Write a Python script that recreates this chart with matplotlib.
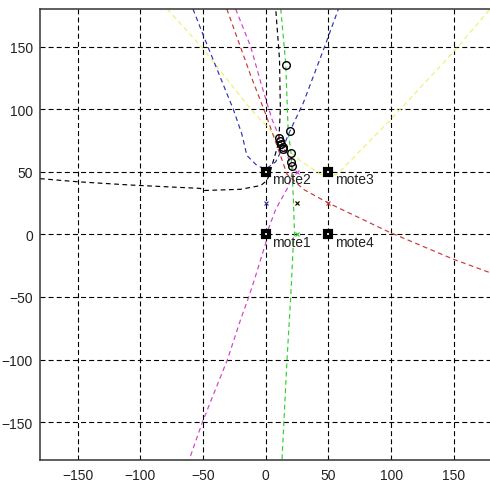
import matplotlib
matplotlib.use("Agg")
import matplotlib.pyplot as plt

plt.rcParams['font.family'] = ['Liberation Sans', 'DejaVu Sans']

# Mote positions and names
mote_x = [0, 0, 50, 50]
mote_y = [0, 50, 50, 0]
mote_names = ["mote1", "mote2", "mote3", "mote4"]

# Hyperbola branches (sampled points)
black_x = [-180, -150, -108, -52, -50, -20, -4, 1, 3, 10.4, 11.7, 11, 8]
black_y = [44.5, 42, 39.4, 36.7, 35, 36, 39, 43, 48, 73.5, 100, 140, 180]

blue_x = [-58, -49, -25.5, -19, -15, -7, 0, 8, 14, 20, 30, 47, 58]
blue_y = [180, 157, 99, 80, 63, 55, 52, 58, 70, 84, 105, 150, 180]

red_x = [-31, -12, 0, 10, 17, 30, 50, 98, 150, 180]
red_y = [180, 127, 96, 68, 48, 36, 25, 2, -20, -31]

magenta_x = [-24, -12, -3, 5, 14, 22, 18, 8, 2, 0, -8, -13.5, -20, -30.5, -50.5, -61]
magenta_y = [180, 150, 118, 92, 70, 52, 38, 20, 4, -7, -33, -50, -68, -100, -150, -180]

green_x = [12, 16, 18, 20, 22, 23, 22, 20, 17, 13]
green_y = [180, 136, 80, 68, 30, 0, -8, -49, -100, -180]

yellow_x = [-78.5, -52, -12, 4, 15, 27.6, 43.5, 50, 57, 99, 150, 179]
yellow_y = [180, 150.6, 100, 83, 70, 58.8, 48.2, 46, 48, 91, 146, 180]

# Pairwise midpoints
mid_x = [25, 0, 25, 25, 25, 50]
mid_y = [25, 25, 25, 0, 50, 25]
mid_colors = ["#eeee70", "#3030b0", "black", "#30c030", "#d040d0", "#c03030"]

# Estimated intersection points
est_x = [16.5, 19.5, 10.5, 11.5, 12.5, 13.5, 14, 20.5, 20, 21]
est_y = [135, 82.5, 77, 74.5, 72, 70, 68.5, 65, 57.5, 54.5]

ticks = [-150, -100, -50, 0, 50, 100, 150]

fig = plt.figure(figsize=(4.9, 4.85), dpi=100)
ax = fig.add_axes([40 / 490, 24.3 / 485, 451.4 / 490, 450.7 / 485])

ls = (0, (4, 3))
lw = 0.85
ax.plot(yellow_x, yellow_y, color="#f0f070", lw=lw, ls=ls)
ax.plot(black_x, black_y, color="black", lw=lw, ls=ls)
ax.plot(blue_x, blue_y, color="#3030b0", lw=lw, ls=ls)
ax.plot(red_x, red_y, color="#c83838", lw=lw, ls=ls)
ax.plot(magenta_x, magenta_y, color="#d040d0", lw=lw, ls=ls)
ax.plot(green_x, green_y, color="#30d030", lw=lw, ls=ls)

for mx, my, mc in zip(mid_x, mid_y, mid_colors):
    ax.plot(mx, my, marker="x", color=mc, ms=3.5, mew=0.8, ls="none")

ax.plot(est_x, est_y, marker="o", ls="none", mfc="none", mec="black",
        ms=5.5, mew=1.0)

ax.plot(mote_x, mote_y, marker="s", ls="none", mfc="white", mec="black",
        ms=4.9, mew=3.0)
for mx, my, name in zip(mote_x, mote_y, mote_names):
    ax.text(mx + 5, my - 6, name, ha="left", va="center",
            fontsize=10, color="#222222")

ax.set_xlim(-180, 180)
ax.set_ylim(-180, 180)
ax.set_xticks(ticks)
ax.set_yticks(ticks)
ax.grid(True, color="black", lw=0.8, ls=(0, (4.5, 2.8)))
ax.set_axisbelow(True)
ax.tick_params(direction="in", length=0, labelsize=10, colors="#222222",
               pad=5)
ax.tick_params(axis="x", pad=6)
for side in ["left", "top", "bottom"]:
    ax.spines[side].set_color("#333333")
    ax.spines[side].set_linewidth(1.1)
ax.spines["right"].set_visible(False)

fig.savefig("out.png", dpi=100)
